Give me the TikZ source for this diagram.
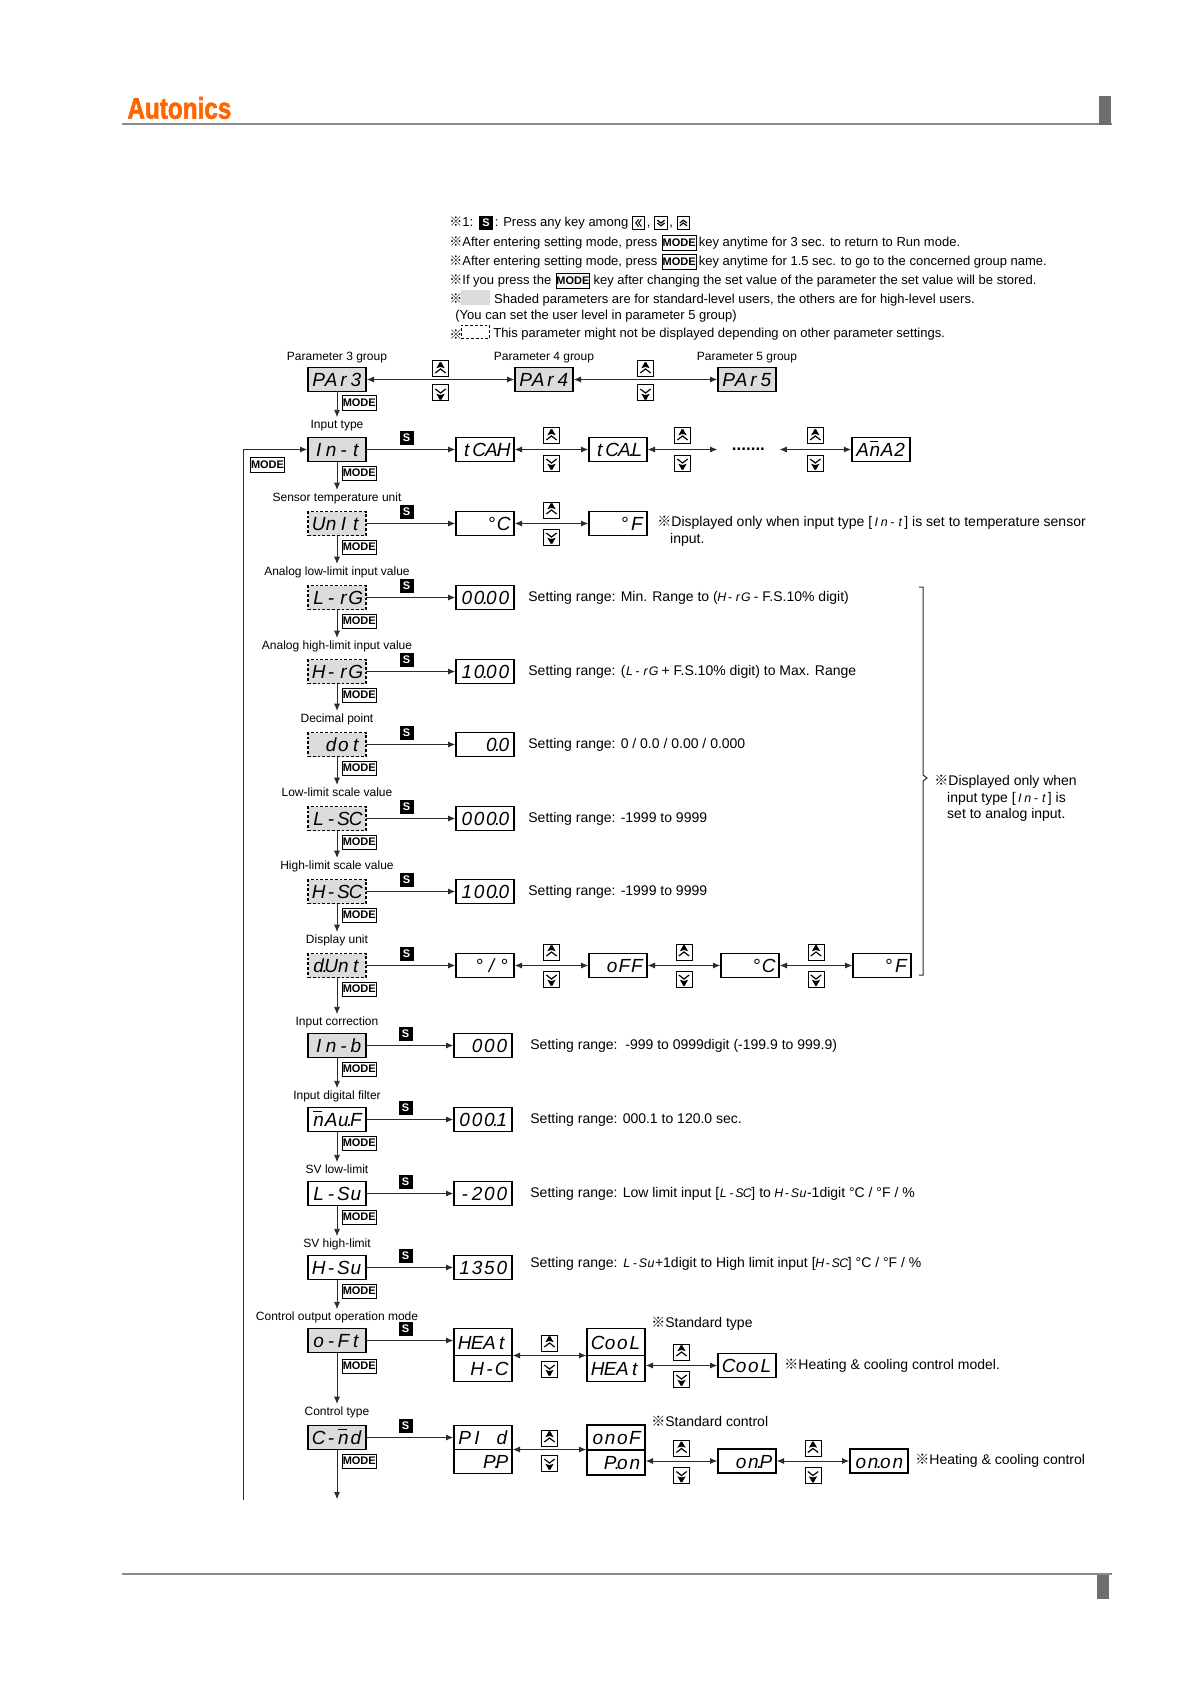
\documentclass[tikz,border=0pt]{standalone}
\usepackage{fontspec}
\usepackage{xcolor}
\usepackage{tikz}
\usetikzlibrary{positioning, arrows.meta}
\setmainfont{Liberation Sans}
\newfontfamily\cjk{Noto Sans CJK KR}
\newfontfamily\logofont[FakeStretch=.81,BoldFeatures={FakeBold=1.8,FakeStretch=.81}]{Liberation Sans}
\definecolor{lcdgray}{HTML}{DCDCDC}
\definecolor{lineink}{HTML}{2B2B2B}
\definecolor{rulegray}{HTML}{8A8A8A}
\definecolor{blockgray}{HTML}{6E6E6E}
\definecolor{logoorange}{HTML}{FF6600}
\makeatletter
\newcommand{\seg}[1]{\@tfor\segc:=#1\do{\makebox[.65em][c]{\segc}}}
\makeatother
\newcommand{\segs}[1]{{\fontsize{6.2}{6.5}\selectfont\itshape\seg{#1}}}
\newcommand{\barn}{\makebox[0pt][l]{\raisebox{.78em}{\rule{.45em}{.05em}}}n}
\newcommand{\pnt}{\rlap{\kern-.08em.}}
\newcommand{\refm}{{\cjk ※}}
\newcommand{\chevrons}[2]{\draw[line width=.6pt] (path picture bounding box.center) ++({-1*(#1)},{-1*(#2)}) -- ++(#1,#2) -- ++(#1,{-1*(#2)}) ++({-2*(#1)},#2) -- ++(#1,#2) -- ++(#1,{-1*(#2)});}
\newcommand{\chevleft}[2]{\draw[line width=.5pt] (path picture bounding box.center) ++(#2,{-1*(#1)}) -- ++({-1*(#2)},#1) -- ++(#2,#1) ++(-#2,{-2*(#1)}) -- ++({-1*(#2)},#1) -- ++(#2,#1);}

\begin{document}
\begin{tikzpicture}[
  x=.5pt, y=-.5pt,
  disp/.style={draw=black, line width=.55pt, align=right, text width=25pt, minimum height=12pt, inner xsep=2pt, inner ysep=0pt, outer sep=0pt, text height=7pt, text depth=0pt, font=\fontsize{9.5}{10}\selectfont\itshape},
  thk/.style={line width=.8pt},
  lcd/.style={fill=lcdgray},
  dbox/.style={dash pattern=on 1.4pt off 1pt},
  lab/.style={inner sep=0pt, text height=4.5pt, text depth=1.3pt, font=\fontsize{6}{7}\selectfont},
  note/.style={anchor=west, inner sep=0pt, text height=5pt, text depth=1.4pt, font=\fontsize{6.5}{7.8}\selectfont},
  rowtext/.style={inner sep=0pt, text height=5.4pt, text depth=1.5pt, font=\fontsize{7}{8}\selectfont},
  blocktext/.style={anchor=west, inner sep=0pt, align=left, font=\fontsize{7}{8.3}\selectfont},
  skey/.style={fill=black, text=white, inner sep=0pt, minimum size=7pt, font=\fontsize{5.5}{6}\selectfont\bfseries},
  modekey/.style={draw=black, line width=.45pt, inner sep=0pt, minimum width=16.8pt, minimum height=7.2pt, font=\fontsize{5.5}{6}\selectfont\bfseries},
  keybox/.style={draw=black, line width=.5pt, inner sep=0pt, minimum size=8pt},
  upkey/.style={keybox, path picture={\chevrons{2.6pt}{2pt}}},
  downkey/.style={keybox, path picture={\chevrons{2.6pt}{-2pt}}},
  tinyup/.style={keybox, minimum size=6.4pt, path picture={\chevrons{1.8pt}{1.4pt}}},
  tinydown/.style={keybox, minimum size=6.4pt, path picture={\chevrons{1.8pt}{-1.4pt}}},
  tinyleft/.style={keybox, minimum size=6.4pt, path picture={\chevleft{1.8pt}{1.4pt}}},
  arr/.style={-{Latex[length=3.6pt, width=3pt]}, line width=.4pt, lineink, shorten >=.4pt},
  dbl/.style={{Latex[length=3.6pt, width=3pt]}-{Latex[length=3.6pt, width=3pt]}, line width=.4pt, lineink, shorten >=.4pt, shorten <=.4pt},
  down/.style={arr, shorten >=1pt}
]
  \useasboundingbox (0,0) rectangle (1191,1684);

  \node[anchor=west, inner sep=0pt, text=logoorange, font=\fontsize{15}{16}\selectfont\logofont\bfseries] (logo) at (127,108) {Autonics};
  \draw[rulegray, line width=.7pt] (122,124) -- (1112,124);
  \fill[blockgray] (1099,96) rectangle (1111,125);
  \draw[rulegray, line width=.7pt] (122,1574) -- (1112,1574);
  \fill[blockgray] (1097,1575) rectangle (1109,1599);

  \node[note] (na1) at (449,223) {\refm1:};
  \node[skey, right=2.5pt of na1] (na2) {S};
  \node[note, right=.5pt of na2] (na3) {: Press any key among};
  \node[tinyleft, right=1.5pt of na3] (na4) {};
  \node[note, right=.5pt of na4] (na5) {,};
  \node[tinydown, right=1.6pt of na5] (na6) {};
  \node[note, right=.5pt of na6] (na7) {,};
  \node[tinyup, right=1.6pt of na7] (na8) {};

  \node[note] (nb1) at (449,243) {\refm After entering setting mode, press};
  \node[modekey, right=2pt of nb1] (nb2) {MODE};
  \node[note, right=1pt of nb2] (nb3) {key anytime for 3 sec. to return to Run mode.};

  \node[note] (nc1) at (449,262) {\refm After entering setting mode, press};
  \node[modekey, right=2pt of nc1] (nc2) {MODE};
  \node[note, right=1pt of nc2] (nc3) {key anytime for 1.5 sec. to go to the concerned group name.};

  \node[note] (nd1) at (449,281) {\refm If you press the};
  \node[modekey, right=2pt of nd1] (nd2) {MODE};
  \node[note, right=1.5pt of nd2] (nd3) {key after changing the set value of the parameter the set value will be stored.};

  \node[note] (ne1) at (449,300) {\refm};
  \node[lcd, anchor=west, inner sep=0pt, minimum width=14.5pt, minimum height=7.5pt] (ne2) at (461,298) {};
  \node[note, right=1.5pt of ne2, yshift=-1pt] (ne3) {Shaded parameters are for standard-level users, the others are for high-level users.};
  \node[note] (ne4) at (455,316) {(You can set the user level in parameter 5 group)};

  \node[note] (nf1) at (449,336) {\refm};
  \node[draw=black, dbox, line width=.45pt, anchor=west, inner sep=0pt, minimum width=14pt, minimum height=6.6pt] (nf2) at (461,332) {};
  \node[note, right=1.5pt of nf2, yshift=-1pt] (nf3) {This parameter might not be displayed depending on other parameter settings.};

  \node[disp, lcd] (par3) at (337,379.5) {\seg{PAr3}};
  \node[disp, lcd, right=74.5pt of par3] (par4) {\seg{PAr4}};
  \node[disp, lcd, right=72.5pt of par4] (par5) {\seg{PAr5}};
  \node[lab, above=2.2pt of par3] (lpar3) {Parameter 3 group};
  \node[lab, above=2.2pt of par4] (lpar4) {Parameter 4 group};
  \node[lab, above=2.2pt of par5] (lpar5) {Parameter 5 group};
  \draw[dbl] (par3) -- node[upkey, above=1pt] (upa) {} node[downkey, below=2.5pt] (dna) {} (par4);
  \draw[dbl] (par4) -- node[upkey, above=1pt] (upb) {} node[downkey, below=2.5pt] (dnb) {} (par5);

  \node[disp, lcd, below=23pt of par3] (int) {\seg{In-t}};
  \node[lab, above=3pt of int] (lint) {Input type};
  \draw[down] (par3) -- (par3 |- lint.north);
  \node[modekey, below right=2pt and -12pt of par3] (mpar3) {MODE};
  \node[disp, thk, right=45pt of int] (tcah) {\seg{tC{A\pnt}H}};
  \node[disp, thk, right=37.5pt of tcah] (tcal) {\seg{tC{A\pnt}L}};
  \node[inner sep=0pt, minimum width=30pt, font=\fontsize{8.5}{9}\selectfont\bfseries, right=35.5pt of tcal] (more) {.......};
  \node[disp, thk, right=36.5pt of more] (ana) {\seg{A{\barn}A2}};
  \draw[arr] (int) -- node[skey, above=2pt, pos=.45] (sint) {S} (tcah);
  \draw[dbl] (tcah) -- node[upkey, above=2.5pt] (upc) {} node[downkey, below=2.5pt] (dnc) {} (tcal);
  \draw[dbl] (tcal) -- node[upkey, above=2.5pt] (upd) {} node[downkey, below=2.5pt] (dnd) {} (more);
  \draw[dbl] (more) -- node[upkey, above=2.5pt] (upe) {} node[downkey, below=2.5pt] (dne) {} (ana);
  \coordinate (loopend) at (243,1500);
  \draw[arr] (loopend) |- (int);
  \node[modekey] (mback) at (267.5,465) {MODE};

  \node[disp, lcd, dbox, below=25pt of int] (unit) {\seg{UnIt}};
  \node[lab, above=3.6pt of unit] (lunit) {Sensor temperature unit};
  \draw[down] (int) -- (int |- lunit.north);
  \node[modekey, below right=2pt and -12pt of int] (mint) {MODE};
  \node[disp, right=45pt of unit] (cdeg) {\seg{°C}};
  \node[disp, right=37.5pt of cdeg] (fdeg) {\seg{°F}};
  \draw[arr] (unit) -- node[skey, above=2pt, pos=.45] (sunit) {S} (cdeg);
  \draw[dbl] (cdeg) -- node[upkey, above=2.5pt] (upf) {} node[downkey, below=2.5pt] (dnf) {} (fdeg);
  \node[blocktext, right=5pt of fdeg, yshift=-3.8pt] (tunit) {\refm Displayed only when input type [\segs{In-t}] is set to temperature sensor\\\hspace*{6.4pt}input.};

  \node[disp, lcd, dbox, below=25pt of unit] (lrg) {\seg{L-rG}};
  \node[lab, above=3.6pt of lrg] (llrg) {Analog low-limit input value};
  \draw[down] (unit) -- (unit |- llrg.north);
  \node[modekey, below right=2pt and -12pt of unit] (munit) {MODE};
  \node[disp, right=45pt of lrg] (vlrg) {\seg{0{0\pnt}00}};
  \draw[arr] (lrg) -- node[skey, above=2pt, pos=.45] (slrg) {S} (vlrg);
  \node[rowtext, right=7pt of vlrg] (tlrg) {Setting range: Min. Range to (\segs{H-rG} - F.S.10\% digit)};

  \node[disp, lcd, dbox, below=25pt of lrg] (hrg) {\seg{H-rG}};
  \node[lab, above=3.6pt of hrg] (lhrg) {Analog high-limit input value};
  \draw[down] (lrg) -- (lrg |- lhrg.north);
  \node[modekey, below right=2pt and -12pt of lrg] (mlrg) {MODE};
  \node[disp, right=45pt of hrg] (vhrg) {\seg{1{0\pnt}00}};
  \draw[arr] (hrg) -- node[skey, above=2pt, pos=.45] (shrg) {S} (vhrg);
  \node[rowtext, right=7pt of vhrg] (thrg) {Setting range: (\segs{L-rG} + F.S.10\% digit) to Max. Range};

  \node[disp, lcd, dbox, below=24.5pt of hrg] (dot) {\seg{dot}};
  \node[lab, above=3.6pt of dot] (ldot) {Decimal point};
  \draw[down] (hrg) -- (hrg |- ldot.north);
  \node[modekey, below right=2pt and -12pt of hrg] (mhrg) {MODE};
  \node[disp, right=45pt of dot] (vdot) {\seg{{0\pnt}0}};
  \draw[arr] (dot) -- node[skey, above=2pt, pos=.45] (sdot) {S} (vdot);
  \node[rowtext, right=7pt of vdot] (tdot) {Setting range: 0 / 0.0 / 0.00 / 0.000};

  \node[disp, lcd, dbox, below=25pt of dot] (lsc) {\seg{L-SC}};
  \node[lab, above=3.6pt of lsc] (llsc) {Low-limit scale value};
  \draw[down] (dot) -- (dot |- llsc.north);
  \node[modekey, below right=2pt and -12pt of dot] (mdot) {MODE};
  \node[disp, right=45pt of lsc] (vlsc) {\seg{00{0\pnt}0}};
  \draw[arr] (lsc) -- node[skey, above=2pt, pos=.45] (slsc) {S} (vlsc);
  \node[rowtext, right=7pt of vlsc] (tlsc) {Setting range: -1999 to 9999};

  \node[disp, lcd, dbox, below=24.5pt of lsc] (hsc) {\seg{H-SC}};
  \node[lab, above=3.6pt of hsc] (lhsc) {High-limit scale value};
  \draw[down] (lsc) -- (lsc |- lhsc.north);
  \node[modekey, below right=2pt and -12pt of lsc] (mlsc) {MODE};
  \node[disp, right=45pt of hsc] (vhsc) {\seg{10{0\pnt}0}};
  \draw[arr] (hsc) -- node[skey, above=2pt, pos=.45] (shsc) {S} (vhsc);
  \node[rowtext, right=7pt of vhsc] (thsc) {Setting range: -1999 to 9999};

  \node[disp, lcd, dbox, below=25pt of hsc] (dunt) {\seg{{d\pnt}Unt}};
  \node[lab, above=3.6pt of dunt] (ldunt) {Display unit};
  \draw[down] (hsc) -- (hsc |- ldunt.north);
  \node[modekey, below right=2pt and -12pt of hsc] (mhsc) {MODE};
  \node[disp, right=45pt of dunt] (pct) {\seg{°/°}};
  \node[disp, right=37.5pt of pct] (off) {\seg{oFF}};
  \node[disp, right=37pt of off] (cunit) {\seg{°C}};
  \node[disp, right=37pt of cunit] (funit) {\seg{°F}};
  \draw[arr] (dunt) -- node[skey, above=2pt, pos=.45] (sdunt) {S} (pct);
  \draw[dbl] (pct) -- node[upkey, above=2.5pt] (upg) {} node[downkey, below=2.5pt] (dng) {} (off);
  \draw[dbl] (off) -- node[upkey, above=2.5pt] (uph) {} node[downkey, below=2.5pt] (dnh) {} (cunit);
  \draw[dbl] (cunit) -- node[upkey, above=2.5pt] (upi) {} node[downkey, below=2.5pt] (dni) {} (funit);
  \draw[line width=.5pt, lineink] (919,587) -- (923,587) -- (923,775) -- (927,778) -- (923,781) -- (923,975) -- (919,975);
  \node[blocktext] (tanalog) at (934,798.5) {\refm Displayed only when\\\hspace*{6.4pt}input type [\segs{In-t}] is\\\hspace*{6.4pt}set to analog input.};

  \node[disp, lcd, below=28pt of dunt] (inb) {\seg{In-b}};
  \node[lab, above=2.5pt of inb] (linb) {Input correction};
  \draw[down] (dunt) -- (dunt |- linb.north);
  \node[modekey, below right=2pt and -12pt of dunt] (mdunt) {MODE};
  \node[disp, thk, right=44pt of inb] (vinb) {\seg{000}};
  \draw[arr] (inb) -- node[skey, above=2pt, pos=.45] (sinb) {S} (vinb);
  \node[rowtext, right=9pt of vinb] (tinb) {Setting range:\ \ -999 to 0999digit (-199.9 to 999.9)};

  \node[disp, thk, below=25pt of inb] (mauf) {\seg{{\barn}A{u\pnt}F}};
  \node[lab, above=2.5pt of mauf] (lmauf) {Input digital filter};
  \draw[down] (inb) -- (inb |- lmauf.north);
  \node[modekey, below right=2pt and -12pt of inb] (minb) {MODE};
  \node[disp, thk, right=44pt of mauf] (vmauf) {\seg{00{0\pnt}1}};
  \draw[arr] (mauf) -- node[skey, above=2pt, pos=.45] (smauf) {S} (vmauf);
  \node[rowtext, right=9pt of vmauf] (tmauf) {Setting range: 000.1 to 120.0 sec.};

  \node[disp, thk, below=25pt of mauf] (lsv) {\seg{L-Su}};
  \node[lab, above=2.5pt of lsv] (llsv) {SV low-limit};
  \draw[down] (mauf) -- (mauf |- llsv.north);
  \node[modekey, below right=2pt and -12pt of mauf] (mmauf) {MODE};
  \node[disp, thk, right=44pt of lsv] (vlsv) {\seg{-200}};
  \draw[arr] (lsv) -- node[skey, above=2pt, pos=.45] (slsv) {S} (vlsv);
  \node[rowtext, right=9pt of vlsv] (tlsv) {Setting range: Low limit input [\segs{L-SC}] to \segs{H-Su}-1digit °C / °F / \%};

  \node[disp, thk, below=25pt of lsv] (hsv) {\seg{H-Su}};
  \node[lab, above=2.5pt of hsv] (lhsv) {SV high-limit};
  \draw[down] (lsv) -- (lsv |- lhsv.north);
  \node[modekey, below right=2pt and -12pt of lsv] (mlsv) {MODE};
  \node[disp, thk, right=44pt of hsv] (vhsv) {\seg{1350}};
  \draw[arr] (hsv) -- node[skey, above=2pt, pos=.45] (shsv) {S} (vhsv);
  \node[rowtext, right=9pt of vhsv, yshift=2pt] (thsv) {Setting range: \segs{L-Su}+1digit to High limit input [\segs{H-SC}] °C / °F / \%};

  \node[disp, lcd, below=24.5pt of hsv] (oft) {\seg{o-Ft}};
  \node[lab, above=2.5pt of oft] (loft) {Control output operation mode};
  \draw[down] (hsv) -- (hsv |- loft.north);
  \node[modekey, below right=2pt and -12pt of hsv] (mhsv) {MODE};
  \node[disp, thk, minimum height=13.5pt, below right=0pt and 44pt of oft.north east] (heat) {\seg{HEAt}};
  \node[disp, thk, minimum height=13pt, below=0pt of heat] (hc) {\seg{H-C}};
  \node[disp, thk, minimum height=13.5pt, right=37.5pt of heat] (cool) {\seg{CooL}};
  \node[disp, thk, minimum height=13pt, below=0pt of cool] (heatb) {\seg{HEAt}};
  \node[disp, thk, right=36.5pt of heatb, yshift=1.5pt] (coolb) {\seg{CooL}};
  \draw[arr] (oft) -- node[skey, above=2pt, pos=.45] (soft) {S} (oft -| heat.west);
  \draw[dbl] (heat.south east) -- node[upkey, above=2pt] (upj) {} node[downkey, below=2.5pt] (dnj) {} (cool.south west);
  \draw[dbl] (heatb.east |- coolb) -- node[upkey, above=2.5pt] (upk) {} node[downkey, below=2.5pt] (dnk) {} (coolb);
  \node[rowtext, above right=2.5pt and 3pt of cool.north east, anchor=west] (tstd) {\refm Standard type};
  \node[rowtext, right=4pt of coolb] (thc) {\refm Heating \& cooling control model.};

  \node[disp, lcd, below=36.5pt of oft] (cmd) {\seg{C-{\barn}d}};
  \node[lab, above=3.6pt of cmd] (lcmd) {Control type};
  \draw[down] (oft) -- (oft |- lcmd.north);
  \node[modekey, below right=3pt and -12pt of oft] (moft) {MODE};
  \node[disp, thk, below right=0pt and 44pt of cmd.north east] (pid) {\seg{PI{\ }d}};
  \node[disp, thk, below=0pt of pid] (pp) {\seg{{P\pnt}P}};
  \node[disp, thk, minimum height=12.5pt, right=37.5pt of pid] (onof) {\seg{onoF}};
  \node[disp, thk, minimum height=12.5pt, below=0pt of onof] (pon) {\seg{{P\pnt}on}};
  \node[disp, right=36.5pt of pon, yshift=.75pt] (onp) {\seg{o{n\pnt}P}};
  \node[disp, thk, right=37pt of onp] (onon) {\seg{o{n\pnt}on}};
  \coordinate (cmdend) at (337,1500);
  \draw[arr] (cmd) -- node[skey, above=2pt, pos=.45] (scmd) {S} (cmd -| pid.west);
  \draw[arr] (cmd) -- (cmdend);
  \node[modekey, below right=2pt and -12pt of cmd] (mcmd) {MODE};
  \draw[dbl] (pid.south east) -- node[upkey, above=1.5pt] (upl) {} node[downkey, below=2.5pt] (dnl) {} (pid.south east -| onof.west);
  \draw[dbl] (pon.east |- onp) -- node[upkey, above=2pt] (upm) {} node[downkey, below=3pt] (dnm) {} (onp);
  \draw[dbl] (onp) -- node[upkey, above=2pt] (upn) {} node[downkey, below=3pt] (dnn) {} (onon);
  \node[rowtext, above right=1pt and 3pt of onof.north east, anchor=west] (tstc) {\refm Standard control};
  \node[rowtext, right=3.5pt of onon] (thcc) {\refm Heating \& cooling control};
\end{tikzpicture}
\end{document}
